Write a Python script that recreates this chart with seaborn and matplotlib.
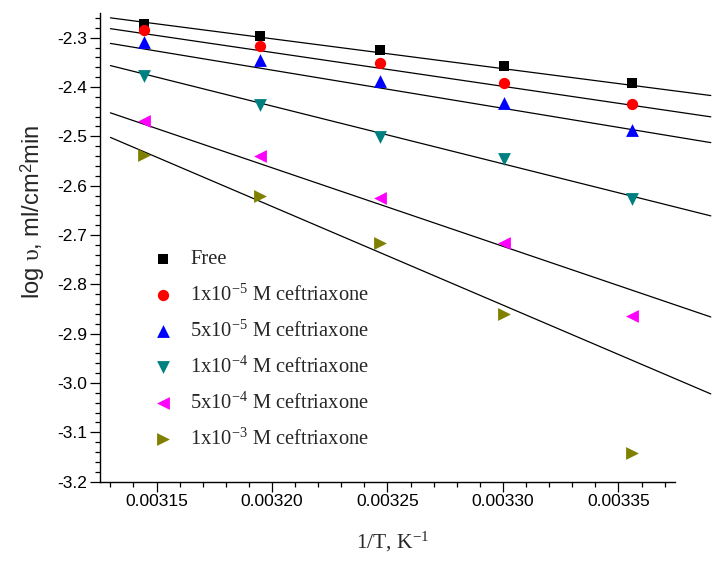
import numpy as np
import pandas as pd
import matplotlib
matplotlib.use("Agg")
import matplotlib.pyplot as plt
import seaborn as sns

# Temperatures (K) and the reciprocal used on the x axis
temps = np.array([318, 313, 308, 303, 298])
inv_T = 1.0 / temps

series = [
    "Free",
    "1x10$^{-5}$ M ceftriaxone",
    "5x10$^{-5}$ M ceftriaxone",
    "1x10$^{-4}$ M ceftriaxone",
    "5x10$^{-4}$ M ceftriaxone",
    "1x10$^{-3}$ M ceftriaxone",
]

log_rate_free = [-2.272, -2.297, -2.324, -2.358, -2.392]
log_rate_1e5 = [-2.285, -2.316, -2.351, -2.391, -2.434]
log_rate_5e5 = [-2.309, -2.346, -2.388, -2.432, -2.488]
log_rate_1e4 = [-2.378, -2.436, -2.501, -2.545, -2.628]
log_rate_5e4 = [-2.469, -2.540, -2.625, -2.717, -2.864]
log_rate_1e3 = [-2.537, -2.621, -2.717, -2.861, -3.142]

# Arrhenius fit lines: log v = intercept + slope * (1/T)
fit_slope = [-605.6, -687.4, -773.4, -1171.8, -1591.6, -1999.6]
fit_intercept = [-0.3643, -0.1302, 0.1091, 1.3112, 2.5294, 3.7566]
fit_range = [0.00313, 0.00339]

x_ticks = [0.00315, 0.00320, 0.00325, 0.00330, 0.00335]
y_ticks = [-3.2, -3.1, -3.0, -2.9, -2.8, -2.7, -2.6, -2.5, -2.4, -2.3]

colors = ["#000000", "#FF0000", "#0000FF", "#008080", "#FF00FF", "#808000"]
markers = ["s", "o", "^", "v", "<", ">"]
sizes = [48, 66, 85, 85, 85, 85]

all_values = [log_rate_free, log_rate_1e5, log_rate_5e5,
              log_rate_1e4, log_rate_5e4, log_rate_1e3]
df = pd.concat(
    [pd.DataFrame({"invT": inv_T, "logv": vals, "series": name})
     for name, vals in zip(series, all_values)],
    ignore_index=True,
)

sns.set_theme(style="ticks")
plt.rcParams["font.family"] = ["Liberation Sans", "DejaVu Sans"]
plt.rcParams["mathtext.fontset"] = "custom"
plt.rcParams["mathtext.rm"] = "Liberation Serif"
plt.rcParams["mathtext.it"] = "Liberation Serif:italic"
plt.rcParams["mathtext.sf"] = "Liberation Sans"

fig = plt.figure(figsize=(7.15, 5.61), dpi=100)
ax = fig.add_axes([100 / 715, 1 - 481.7 / 561, 575 / 715, 468.7 / 561])

xs = np.array(fit_range)
for slope, icpt in zip(fit_slope, fit_intercept):
    ax.plot(xs, icpt + slope * xs, color="black", lw=0.9, clip_on=False, zorder=2)

for name, col, mk, sz in zip(series, colors, markers, sizes):
    sub = df[df["series"] == name]
    sns.scatterplot(data=sub, x="invT", y="logv", ax=ax, color=col, marker=mk,
                    s=sz, linewidth=0, label=name, zorder=3, clip_on=False)

ax.set_xlim(0.0031255, 0.0033745)
ax.set_ylim(-3.2, -2.25)
ax.set_xticks(x_ticks)
ax.set_xticklabels([f"{v:.5f}" for v in x_ticks])
ax.set_yticks(y_ticks)
ax.set_yticklabels([f"{v:.1f}" for v in y_ticks])
ax.xaxis.set_minor_locator(matplotlib.ticker.MultipleLocator(0.00001))
ax.yaxis.set_minor_locator(matplotlib.ticker.MultipleLocator(0.02))
ax.tick_params(which="major", direction="out", length=7, width=0.9,
               labelsize=12.5, pad=2, colors="black")
ax.tick_params(which="minor", direction="out", length=3.8, width=0.9,
               colors="black")
sns.despine(ax=ax)
for sp in ["left", "bottom"]:
    ax.spines[sp].set_linewidth(1.0)
    ax.spines[sp].set_color("black")

ax.set_xlabel("1/T, K$^{-1}$", fontsize=15.5, family="Liberation Serif")
ax.xaxis.set_label_coords(0.509, -0.102)
ax.set_ylabel("log $\\mathrm{\u03c5}$, ml/cm$^{\\mathsf{2}}$min", fontsize=17)
ax.yaxis.set_label_coords(-0.093, 0.575)

leg = ax.legend(loc="upper left", bbox_to_anchor=(0.06, 0.512), frameon=False,
                prop={"family": "Liberation Serif", "size": 14.8},
                handletextpad=0.3, labelspacing=0.72, borderaxespad=0,
                markerscale=1.0)

fig.savefig("out.png", dpi=100)
